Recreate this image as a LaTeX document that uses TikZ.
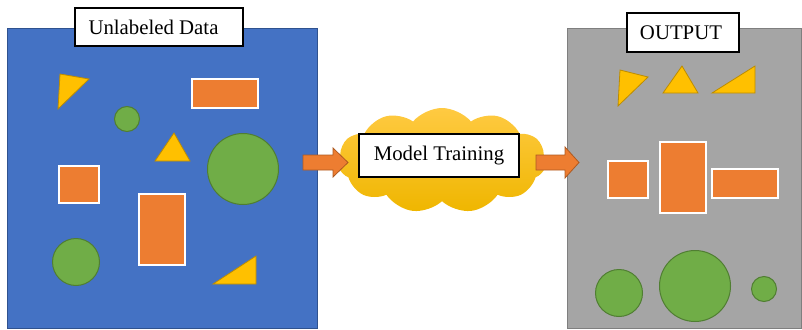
\documentclass[tikz,border=0pt]{standalone}
\usepackage{fontspec}
\setmainfont{Liberation Serif}
\usetikzlibrary{shapes.symbols}
\definecolor{panelblue}{HTML}{4472C4}
\definecolor{panelblueline}{HTML}{2F528F}
\definecolor{panelgray}{HTML}{A5A5A5}
\definecolor{panelgrayline}{HTML}{7F7F7F}
\definecolor{boxorange}{HTML}{ED7D31}
\definecolor{arrowline}{HTML}{AE5A21}
\definecolor{dotgreen}{HTML}{70AD47}
\definecolor{dotgreenline}{HTML}{507E32}
\definecolor{triyellow}{HTML}{FFC000}
\definecolor{triyellowline}{HTML}{BC8C00}
\definecolor{cloudtop}{HTML}{FFCA42}
\definecolor{cloudbottom}{HTML}{EFB600}
\begin{document}
\begin{tikzpicture}[x=1pt,y=-1pt,
  panel/.style={draw, line width=0.8pt, inner sep=0pt},
  labelbox/.style={draw=black, fill=white, line width=1.2pt, inner sep=0pt,
    font=\fontsize{20.8}{24}\selectfont},
  rbox/.style={fill=boxorange, draw=white, line width=1.5pt, inner sep=0pt},
  dot/.style={circle, fill=dotgreen, draw=dotgreenline, line width=1pt, inner sep=0pt},
  tri/.style={fill=triyellow, draw=triyellowline, line width=0.8pt, line join=miter},
  blockarrow/.style={fill=boxorange, draw=arrowline, line width=0.8pt}
]
\useasboundingbox (0,0) rectangle (802,329);

% input panel
\node[panel, fill=panelblue, draw=panelblueline, minimum width=310pt, minimum height=300pt]
  (inpanel) at (162,178) {};
\node[labelbox, minimum width=168pt, minimum height=38pt] (inlabel) at (159,27)
  {Unlabeled Data\hspace*{11pt}};

% output panel
\node[panel, fill=panelgray, draw=panelgrayline, minimum width=234pt, minimum height=300pt]
  (outpanel) at (684.5,178) {};
\node[labelbox, minimum width=112pt, minimum height=39pt] (outlabel) at (683,32.5)
  {OUTPUT\hspace*{4pt}};

% unlabeled shapes
\draw[tri] (60,74) -- (89,79) -- (58,109) -- cycle;
\draw[tri] (155,161) -- (174,133) -- (190,161) -- cycle;
\draw[tri] (213,284) -- (256,256) -- (256,284) -- cycle;
\node[dot, minimum size=25pt] (c1) at (127,119) {};
\node[dot, minimum size=71pt] (c2) at (243,169) {};
\node[dot, minimum size=47pt] (c3) at (76,262) {};
\node[rbox, minimum width=66pt, minimum height=29pt] (r1) at (225,93.5) {};
\node[rbox, minimum width=40pt, minimum height=37pt] (r2) at (79,184.5) {};
\node[rbox, minimum width=46pt, minimum height=71pt] (r3) at (162,229.5) {};

% sorted shapes
\draw[tri] (620,70) -- (648,77) -- (618,106) -- cycle;
\draw[tri] (663,93) -- (682,66) -- (698,93) -- cycle;
\draw[tri] (712,93) -- (755,66) -- (755,93) -- cycle;
\node[rbox, minimum width=40pt, minimum height=37pt] (s1) at (628,179.5) {};
\node[rbox, minimum width=46pt, minimum height=71pt] (s2) at (683,177.5) {};
\node[rbox, minimum width=66pt, minimum height=29pt] (s3) at (745,183.5) {};
\node[dot, minimum size=47pt] (d1) at (619,293) {};
\node[dot, minimum size=71pt] (d2) at (695,286) {};
\node[dot, minimum size=25pt] (d3) at (764,289) {};

% training cloud
\node[cloud, cloud puffs=11, cloud puff arc=100, aspect=2, draw=none,
  top color=cloudtop, bottom color=cloudbottom,
  minimum width=208pt, minimum height=105pt, inner sep=0pt] (cloud) at (442,160.5) {};
\node[labelbox, minimum width=160pt, minimum height=43pt] (train) at (439,155.5) {Model Training};

% flow arrows
\draw[blockarrow] (303,155) -- (333,155) -- (333,148) -- (348,162.5) -- (333,177)
  -- (333,170) -- (303,170) -- cycle;
\draw[blockarrow] (536,155) -- (565,155) -- (565,147) -- (579,162.5) -- (565,178)
  -- (565,170) -- (536,170) -- cycle;
\end{tikzpicture}
\end{document}
